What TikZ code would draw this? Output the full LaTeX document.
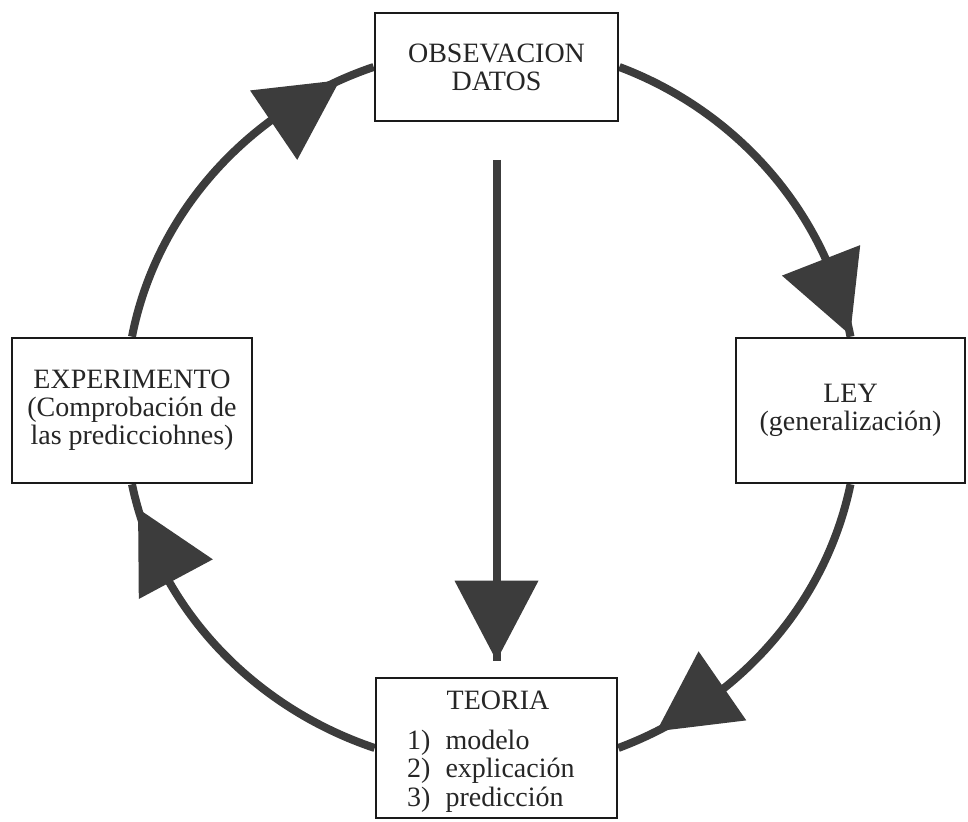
\documentclass[tikz,border=0pt]{standalone}
\usepackage{fontspec}
\setmainfont{Liberation Serif}
\usetikzlibrary{decorations.markings,backgrounds}
\definecolor{arcgray}{HTML}{3C3C3C}
\definecolor{boxline}{HTML}{1A1A1A}
\begin{document}
\begin{tikzpicture}[x=1pt,y=1pt,
  box/.style={draw=boxline, line width=2.6pt, fill=white, inner sep=0pt, align=center,
    font=\fontsize{28}{28}\selectfont, text=black!85},
  lbl/.style={inner sep=0pt, font=\fontsize{28}{28}\selectfont, text=black!85},
  cyc/.style={draw=arcgray, line width=8pt, looseness=0.91},
  headat/.style 2 args={postaction={decorate}, decoration={markings,
    mark=at position #1 with {\fill[arcgray, rotate=#2] (0pt,0pt) -- (-80pt,42pt) -- (-80pt,-42pt) -- cycle;}}}
]
\useasboundingbox (0,0) rectangle (968,821);

\node[box, minimum width=243pt, minimum height=108pt] (obs) at (496.5,754) {OBSEVACION\\DATOS};
\node[box, minimum width=240pt, minimum height=145pt] (exp) at (132,410.5) {EXPERIMENTO\\(Comprobación de\\las predicciohnes)};
\node[box, minimum width=229pt, minimum height=145pt] (ley) at (850.5,410.5) {LEY\\(generalización)};
\node[box, minimum width=241pt, minimum height=140pt] (teo) at (496.5,73) {};
\node[lbl, anchor=base] (teot) at (498,111) {TEORIA};
\node[lbl, anchor=base west] (t1) at (407,71) {1)\hspace{15pt}modelo};
\node[lbl, anchor=base west] (t2) at (407,43) {2)\hspace{15pt}explicación};
\node[lbl, anchor=base west] (t3) at (407,15) {3)\hspace{15pt}predicción};

\coordinate (vstart) at (teo.north |- 0,661);

\begin{scope}[on background layer]
  \draw[cyc, headat={0.904}{10}] (exp.north) to[out=79, in=198.6] (obs.west);
  \draw[cyc, headat={0.995}{10}] (obs.east) to[out=-20.6, in=101] (ley.north);
  \draw[cyc, headat={0.886}{8}] (ley.south) to[out=-101.8, in=20.5] (teo.east);
  \draw[cyc, headat={0.933}{12}] (teo.west) to[out=161.5, in=281.8] (exp.south);
  \draw[cyc, headat={1}{0}] (vstart) -- ([yshift=16pt]teo.north);
\end{scope}
\end{tikzpicture}
\end{document}
